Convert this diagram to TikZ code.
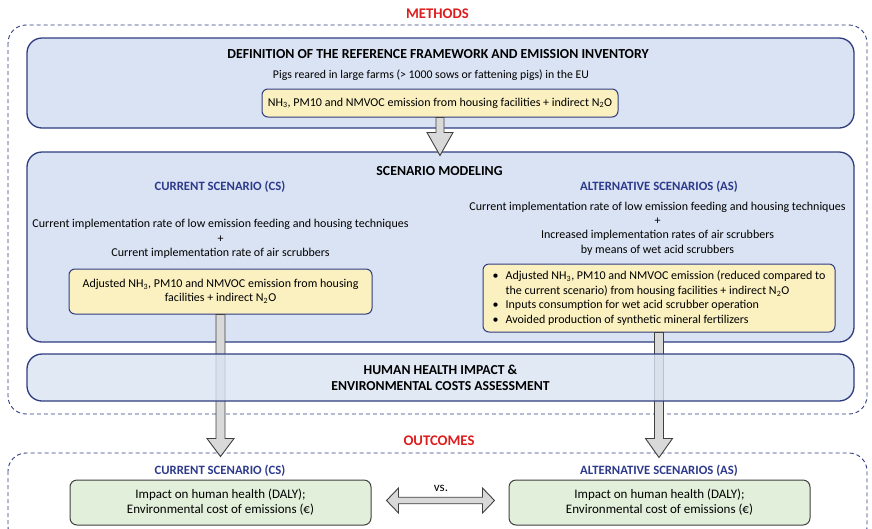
\documentclass[tikz,border=0pt]{standalone}
\usepackage{fontspec}
\setmainfont{Carlito}
\usetikzlibrary{calc}

\definecolor{navy}{RGB}{47,60,128}
\definecolor{navyhead}{RGB}{45,58,140}
\definecolor{boxblue}{RGB}{218,227,243}
\definecolor{boxyellow}{RGB}{250,240,192}
\definecolor{boxgreen}{RGB}{226,239,218}
\definecolor{arrowgray}{RGB}{217,217,217}
\definecolor{edgegray}{RGB}{64,64,64}
\definecolor{methodred}{RGB}{222,30,30}

\tikzset{
    frame/.style={draw=navy, line width=0.9pt, dash pattern=on 4pt off 3pt, rounded corners=18pt},
    bigbox/.style={draw=navy, line width=1.3pt, fill=boxblue, rounded corners=15pt, minimum width=827pt},
    embox/.style={draw=navy, line width=1pt, fill=boxyellow, rounded corners=6pt, align=center,
        font=\fontsize{12}{14.4}\selectfont},
    outbox/.style={draw=edgegray, line width=1pt, fill=boxgreen, rounded corners=7pt,
        minimum width=301pt, minimum height=45pt, align=center, font=\fontsize{13}{15}\selectfont},
    bodytext/.style={font=\fontsize{12}{14.4}\selectfont, inner sep=0pt, align=center},
    titletext/.style={font=\fontsize{13.8}{16}\selectfont\bfseries, inner sep=0pt, align=center},
    headtext/.style={font=\fontsize{12.7}{15}\selectfont\bfseries, text=navyhead, inner sep=0pt},
    redtitle/.style={font=\fontsize{14.7}{17}\selectfont\bfseries, text=methodred, inner sep=0pt},
    fatarrow/.style={draw=edgegray, fill=arrowgray, line width=0.9pt, line join=miter},
}

\begin{document}
\begin{tikzpicture}[x=1pt, y=-1pt]

    \clip (0,0) rectangle (872,528);

    % dashed frames and their labels
    \draw[frame] (8,25) rectangle (867,414);
    \draw[frame] (8,453) rectangle (867,545);
    \node[redtitle] (methods)  at (437.5,14) {METHODS};
    \node[redtitle] (outcomes) at (439,441)  {OUTCOMES};

    % reference framework
    \node[bigbox, minimum height=90pt] (def) at (440.5,83) {};
    \node[titletext] (def_title) at (438,54)
        {DEFINITION OF THE REFERENCE FRAMEWORK AND EMISSION INVENTORY};
    \node[bodytext, font=\fontsize{11.8}{14}\selectfont] (def_sub) at (431,75)
        {Pigs reared in large farms (> 1000 sows or fattening pigs) in the EU};
    \node[embox, minimum width=356pt, minimum height=28pt] (def_em) at (440,103)
        {NH\textsubscript{3}, PM10 and NMVOC emission from housing facilities + indirect N\textsubscript{2}O};

    % scenario modeling
    \node[bigbox, minimum height=190pt] (scen) at (440.5,247) {};
    \node[titletext] (scen_title) at (439.5,171) {SCENARIO MODELING};
    % current scenario
    \node[headtext] (cs_head) at (220,187) {CURRENT SCENARIO (CS)};
    \node[bodytext] (cs_text) at (220.5,239)
        {Current implementation rate of low emission feeding and housing techniques\\
         +\\
         Current implementation rate of air scrubbers};
    \node[embox, minimum width=303pt, minimum height=45pt] (cs_em) at (220.5,291.5)
        {Adjusted NH\textsubscript{3}, PM10 and NMVOC emission from housing\\
         facilities + indirect N\textsubscript{2}O};
    % alternative scenarios
    \node[headtext] (as_head) at (659,187) {ALTERNATIVE SCENARIOS (AS)};
    \node[bodytext] (as_text) at (657.5,228.5)
        {Current implementation rate of low emission feeding and housing techniques\\
         +\\
         Increased implementation rates of air scrubbers\\
         by means of wet acid scrubbers};
    \node[embox, align=left, minimum width=352pt, minimum height=68pt] (as_em) at (659,298)
        {\makebox[13pt][l]{\textbullet}Adjusted NH\textsubscript{3}, PM10 and NMVOC emission (reduced compared to\\
         \hspace*{13pt}the current scenario) from housing facilities + indirect N\textsubscript{2}O\\
         \makebox[13pt][l]{\textbullet}Inputs consumption for wet acid scrubber operation\\
         \makebox[13pt][l]{\textbullet}Avoided production of synthetic mineral fertilizers};

    % arrow tips
    \coordinate (def_tip) at ($(def_em.south)+(0,38)$);
    \coordinate (cs_tip)  at ($(cs_em.south)+(0,142)$);
    \coordinate (as_tip)  at ($(as_em.south)+(0,125)$);

    % block arrows
    \draw[fatarrow] ($(def_em.south)+(-4,0)$) -- ($(def_tip)+(-4,-23)$) -- ++(-9,0) -- (def_tip)
        -- ++(13,-23) -- ++(-9,0) -- ($(def_em.south)+(4,0)$) -- cycle;
    \draw[fatarrow] ($(cs_em.south)+(-4.5,0)$) -- ($(cs_tip)+(-4.5,-18)$) -- ++(-9,0) -- (cs_tip)
        -- ++(13.5,-18) -- ++(-9,0) -- ($(cs_em.south)+(4.5,0)$) -- cycle;
    \draw[fatarrow] ($(as_em.south)+(-4.5,0)$) -- ($(as_tip)+(-4.5,-19)$) -- ++(-9,0) -- (as_tip)
        -- ++(13.5,-19) -- ++(-9,0) -- ($(as_em.south)+(4.5,0)$) -- cycle;

    % health impact (lies over the arrows)
    \node[bigbox, fill opacity=0.8, text opacity=1, minimum height=47pt, align=center,
        font=\fontsize{13.7}{16}\selectfont\bfseries] (hh) at (440.5,377.5)
        {HUMAN HEALTH IMPACT \&\\ENVIRONMENTAL COSTS ASSESSMENT};

    % outcomes
    \node[headtext] (out_cs_head) at (220,471) {CURRENT SCENARIO (CS)};
    \node[headtext] (out_as_head) at (659,471) {ALTERNATIVE SCENARIOS (AS)};
    \node[outbox] (out_cs) at (220.5,502.5)
        {Impact on human health (DALY);\\Environmental cost of emissions (€)};
    \node[outbox] (out_as) at (659.5,502.5)
        {Impact on human health (DALY);\\Environmental cost of emissions (€)};

    % comparison arrow
    \coordinate (vs_left)  at ($(out_cs.east)+(15,-2)$);
    \coordinate (vs_right) at ($(out_as.west)+(-14,-2)$);
    \draw[fatarrow] (vs_left) -- ++(12,-12.5) -- ++(0,9.25) -- ($(vs_right)+(-12,-3.25)$)
        -- ++(0,-9.25) -- (vs_right) -- ++(-12,12.5) -- ++(0,-9.25)
        -- ($(vs_left)+(12,3.25)$) -- ++(0,9.25) -- cycle;
    \node[bodytext, font=\fontsize{13}{15}\selectfont] (vs) at (441,488) {vs.};

\end{tikzpicture}
\end{document}
